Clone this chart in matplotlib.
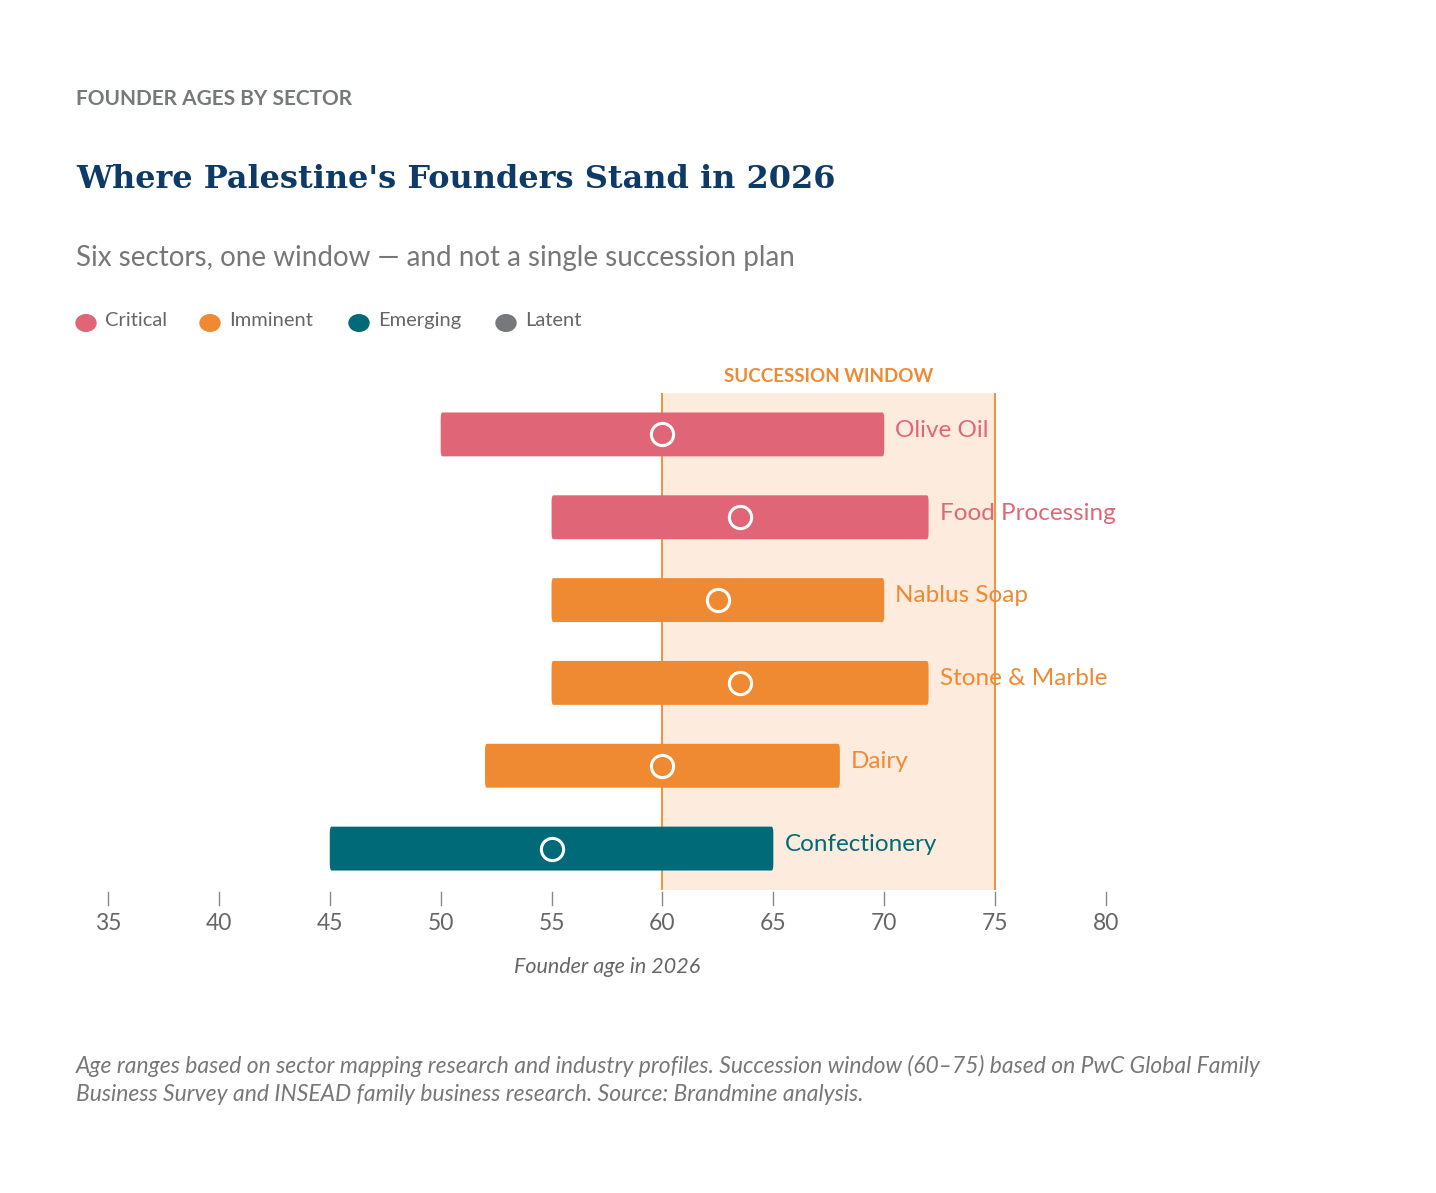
import matplotlib.pyplot as plt
from matplotlib.patches import FancyBboxPatch

# data
sectors = ["Olive Oil", "Food Processing", "Nablus Soap", "Stone & Marble", "Dairy", "Confectionery"]
age_low = [50, 55, 55, 55, 52, 45]
age_high = [70, 72, 70, 72, 68, 65]
age_mid = [60, 63.5, 62.5, 63.5, 60, 55]
tiers = ["Critical", "Critical", "Imminent", "Imminent", "Imminent", "Emerging"]
tier_names = ["Critical", "Imminent", "Emerging", "Latent"]
tier_colors = {"Critical": "#E06677", "Imminent": "#EF8A33", "Emerging": "#006A78", "Latent": "#76787B"}
window = (60, 75)
xticks = [35, 40, 45, 50, 55, 60, 65, 70, 75, 80]

plt.rcParams['font.family'] = ['Lato', 'DejaVu Sans']
W, H = 1436, 1193
fig = plt.figure(figsize=(W / 100, H / 100), dpi=100)
fig.patch.set_facecolor("white")

def fx(px):
    return px / W

def fy(py):
    return 1 - py / H

ax = fig.add_axes([fx(108), fy(890), 998 / W, 497 / H])
ax.set_xlim(35, 80)
ax.set_ylim(5.5, -0.5)
ax.axis("off")

ax.axvspan(window[0], window[1], color="#FDEBDD", zorder=0)
ax.axvline(window[0], color="#EF8A33", lw=1.3, zorder=1)
ax.axvline(window[1], color="#EF8A33", lw=1.3, zorder=1)
ax.text(sum(window) / 2, -0.5 - 0.1, "SUCCESSION WINDOW", ha="center", va="bottom",
        color="#EF8A33", fontsize=13.5, fontweight="bold")

bh = 0.53
for i, s in enumerate(sectors):
    c = tier_colors[tiers[i]]
    box = FancyBboxPatch((age_low[i], i - bh / 2), age_high[i] - age_low[i], bh,
                         boxstyle="round,pad=0,rounding_size=0.08", mutation_aspect=1,
                         fc=c, ec="none", zorder=2)
    ax.add_patch(box)
    ax.plot(age_mid[i], i, "o", ms=16, mfc="none", mec="white", mew=2.2, zorder=3)
    ax.text(age_high[i] + 0.5, i - 0.05, s, ha="left", va="center", color=c, fontsize=17.5)

# x axis ticks drawn manually below axes
for t in xticks:
    ax.plot([t, t], [5.53, 5.68], color="#888888", lw=1, clip_on=False)
    ax.text(t, 5.9, str(t), ha="center", va="center", fontsize=16.5, color="#666666")
ax.text(57.5, 6.43, "Founder age in 2026", ha="center", va="center", fontsize=15.5,
        style="italic", color="#666666")

fig.text(fx(76), fy(99), "FOUNDER AGES BY SECTOR", fontsize=15, fontweight="bold",
         color="#76787B", va="center")
fig.text(fx(76), fy(179), "Where Palestine's Founders Stand in 2026", fontsize=23,
         fontweight="bold", color="#0D3A66", va="center", family="DejaVu Serif")
fig.text(fx(76), fy(258), "Six sectors, one window \u2014 and not a single succession plan",
         fontsize=20, color="#777777", va="center")

lx = [86, 210, 359, 506]
for x, n in zip(lx, tier_names):
    fig.patches.append(plt.Circle((fx(x), fy(323)), 10 / W, transform=fig.transFigure,
                                  color=tier_colors[n]))
    fig.text(fx(x + 19), fy(321), n, fontsize=14.5, color="#666666", va="center")

fig.text(fx(76), fy(1080),
         "Age ranges based on sector mapping research and industry profiles. Succession window (60\u201375) based on PwC Global Family\n"
         "Business Survey and INSEAD family business research. Source: Brandmine analysis.",
         fontsize=16.5, style="italic", color="#777777", va="center", linespacing=1.45)

fig.savefig("out.png", dpi=100)
